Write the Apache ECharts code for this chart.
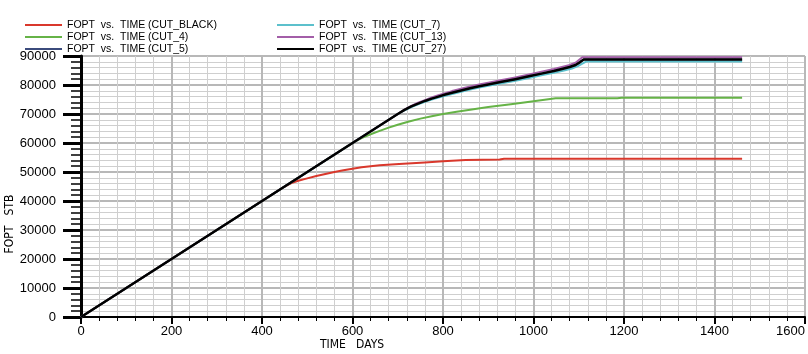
<!DOCTYPE html>
<html>
<head>
<meta charset="utf-8">
<script src="https://cdn.jsdelivr.net/npm/echarts@6/dist/echarts.min.js"></script>
<style>
  html, body { margin: 0; padding: 0; background: #fff; }
  #main { width: 808px; height: 354px; }
</style>
</head>
<body>
<div id="main"></div>
<script>
// [TIME days, FOPT stb]
var cutBlack = [[0, 0], [450, 45000], [465, 46200], [480, 47000], [500, 47800], [520, 48600],
  [540, 49300], [560, 50000], [580, 50600], [600, 51100], [620, 51600], [640, 52000],
  [660, 52300], [703, 52800], [760, 53300], [800, 53700], [850, 54100], [925, 54300],
  [935, 54600], [1461, 54600]];
var cut4 = [[0, 0], [605, 60500], [620, 61700], [640, 63000], [660, 64200], [680, 65300],
  [700, 66300], [725, 67400], [750, 68400], [775, 69200], [800, 70000], [830, 70800],
  [860, 71500], [900, 72400], [950, 73400], [1000, 74400], [1049, 75400], [1185, 75400],
  [1195, 75600], [1461, 75600]];
var cut5 = [[0, 0], [700, 70000], [715, 71400], [730, 72600], [745, 73600], [760, 74500],
  [775, 75300], [790, 76000], [805, 76700], [820, 77300], [840, 78100], [860, 78900],
  [880, 79600], [900, 80200], [930, 81100], [960, 82000], [990, 83000], [1020, 84000],
  [1045, 84800], [1065, 85600], [1080, 86200], [1093, 86900], [1103, 87900], [1111, 88800],
  [1461, 88800]];
var cut7 = [[0, 0], [700, 70000], [715, 71300], [730, 72400], [745, 73300], [760, 74200],
  [775, 75000], [790, 75700], [805, 76300], [820, 76900], [840, 77700], [860, 78400],
  [880, 79100], [900, 79700], [930, 80600], [960, 81500], [990, 82400], [1020, 83400],
  [1045, 84200], [1065, 84900], [1085, 85700], [1098, 86500], [1108, 87400], [1116, 88100],
  [1461, 88100]];
var cut13 = [[0, 0], [700, 70000], [715, 71500], [730, 72800], [745, 73900], [760, 74800],
  [775, 75700], [790, 76500], [805, 77200], [820, 77900], [840, 78700], [860, 79500],
  [880, 80200], [900, 80800], [930, 81700], [960, 82600], [990, 83600], [1020, 84700],
  [1045, 85500], [1065, 86300], [1080, 86900], [1093, 87700], [1101, 88700], [1108, 89600],
  [1461, 89600]];
var cut27 = [[0, 0], [700, 70000], [715, 71400], [730, 72600], [745, 73600], [760, 74500],
  [775, 75300], [790, 76000], [805, 76700], [820, 77300], [840, 78100], [860, 78900],
  [880, 79600], [900, 80200], [930, 81100], [960, 82000], [990, 83000], [1020, 84000],
  [1045, 84800], [1065, 85600], [1080, 86200], [1093, 86900], [1103, 87900], [1111, 88800],
  [1461, 88800]];

var seriesNames = ['FOPT  vs.  TIME (CUT_BLACK)', 'FOPT  vs.  TIME (CUT_4)', 'FOPT  vs.  TIME (CUT_5)',
  'FOPT  vs.  TIME (CUT_7)', 'FOPT  vs.  TIME (CUT_13)', 'FOPT  vs.  TIME (CUT_27)'];
var seriesData = [cutBlack, cut4, cut5, cut7, cut13, cut27];
var seriesColors = ['#d9382c', '#66b347', '#3b4b7c', '#5cc0cc', '#a35ea8', '#000000'];

var xTicks = { min: 0, max: 1600, step: 200 };
var yTicks = { min: 0, max: 90000, step: 10000 };

var labelFont = 'Liberation Sans, Arial, sans-serif';
var narrowFont = 'Liberation Sans Narrow, DejaVu Sans Condensed, sans-serif';

var chart = echarts.init(document.getElementById('main'), null, { renderer: 'canvas' });

var series = [];
for (var i = 0; i < seriesData.length; i++) {
  series.push({
    name: seriesNames[i],
    type: 'line',
    data: seriesData[i],
    showSymbol: false,
    symbol: 'none',
    color: seriesColors[i],
    lineStyle: { width: i == 5 ? 2.5 : 2, color: seriesColors[i], join: 'round' },
    animation: false,
    z: 2 + i
  });
}

var legendBase = {
  orient: 'vertical',
  top: 19,
  itemWidth: 37,
  itemHeight: 2,
  itemGap: 0,
  itemTextGap: 2,
  icon: 'rect',
  padding: 0,
  textStyle: { fontFamily: labelFont, fontSize: 10.5, color: '#000', lineHeight: 12 }
};

// plain numbers, no thousands separator
function plain(v) { return String(v); }

chart.setOption({
  backgroundColor: '#fff',
  animation: false,
  legend: [
    echarts.util.extend({ left: 25, data: seriesNames.slice(0, 3) }, legendBase),
    echarts.util.extend({ left: 277, data: seriesNames.slice(3, 6) }, legendBase)
  ],
  grid: { left: 81, right: 2, top: 56, bottom: 37 },
  xAxis: {
    type: 'value',
    min: xTicks.min, max: xTicks.max, interval: xTicks.step,
    axisLine: { onZero: false, lineStyle: { color: '#000', width: 2 } },
    axisTick: { length: 7, lineStyle: { color: '#000', width: 2 } },
    minorTick: { show: true, splitNumber: 5, length: 4, lineStyle: { color: '#000', width: 1 } },
    splitLine: { show: true, lineStyle: { color: '#b8b8b8', width: 2 } },
    minorSplitLine: { show: true, lineStyle: { color: '#cfcfcf', width: 1 } },
    axisLabel: { fontFamily: labelFont, fontSize: 13, color: '#000', margin: 8,
      alignMaxLabel: 'right', formatter: plain }
  },
  yAxis: {
    type: 'value',
    min: yTicks.min, max: yTicks.max, interval: yTicks.step,
    axisLine: { onZero: false, lineStyle: { color: '#000', width: 3 } },
    axisTick: { length: 18, lineStyle: { color: '#000', width: 3 } },
    minorTick: { show: true, splitNumber: 5, length: 10, lineStyle: { color: '#000', width: 1.5 } },
    splitLine: { show: true, lineStyle: { color: '#b8b8b8', width: 2 } },
    minorSplitLine: { show: true, lineStyle: { color: '#cfcfcf', width: 1 } },
    axisLabel: { fontFamily: labelFont, fontSize: 13, color: '#000', margin: 25, formatter: plain }
  },
  graphic: [
    {
      type: 'text',
      x: 10, y: 224,
      rotation: Math.PI / 2,
      style: { text: 'FOPT   STB', fontFamily: narrowFont, fontSize: 12, fill: '#000',
        align: 'center', verticalAlign: 'middle' }
    },
    {
      type: 'text',
      x: 352, y: 345,
      style: { text: 'TIME   DAYS', fontFamily: narrowFont, fontSize: 12, fill: '#000',
        align: 'center', verticalAlign: 'middle' }
    }
  ],
  series: series
});
</script>
</body>
</html>
